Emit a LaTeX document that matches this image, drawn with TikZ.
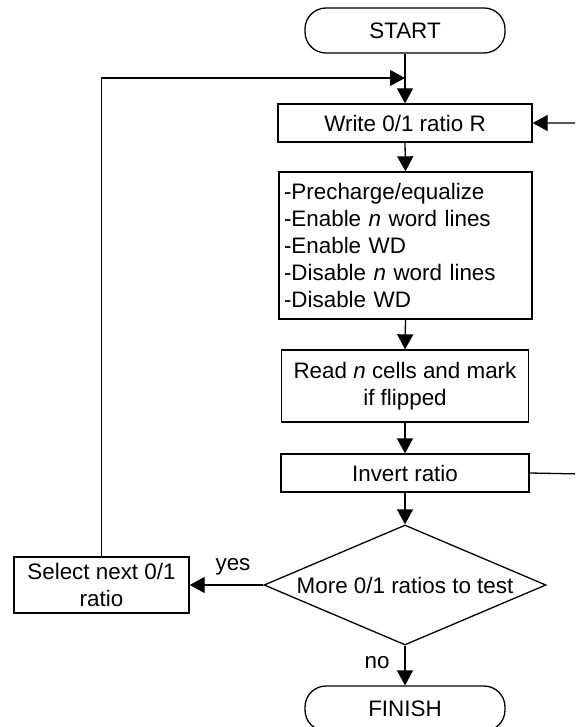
\documentclass[tikz,border=0pt]{standalone}
\usepackage{fontspec}
\setmainfont{Liberation Sans}
\usetikzlibrary{shapes.geometric,arrows.meta}
\begin{document}
\begin{tikzpicture}[x=1pt,y=-1pt,
  every node/.style={font=\fontsize{22.4}{27}\selectfont},
  box/.style={draw, line width=1.3pt, rectangle, inner sep=0pt, align=center},
  term/.style={draw, line width=1.3pt, rounded corners=21pt, minimum width=200pt, minimum height=45pt, inner sep=0pt},
  flow/.style={line width=1.3pt, -{Triangle[length=15pt,width=16pt]}}]
\useasboundingbox (0,0) rectangle (575,727);
\clip (0,0) rectangle (575,727);
\node[term] (start) at (405,30.5) {START};
\node[box, minimum width=254pt, minimum height=38pt] (write) at (405,123) {Write 0/1 ratio R};
\node[box, minimum width=253pt, minimum height=147pt, text width=243pt, align=left] (steps) at (405.5,245.5)
  {-Precharge/equalize\\-Enable \textit{n} word lines\\-Enable WD\\-Disable \textit{n} word lines\\-Disable WD};
\node[box, minimum width=247pt, minimum height=72pt] (read) at (405,386) {Read \textit{n} cells and mark\\if flipped};
\node[box, minimum width=248pt, minimum height=38pt] (inv) at (405,473) {Invert ratio};
\node[draw, diamond, line width=1.3pt, aspect=2.35, inner sep=0pt, minimum width=282pt, minimum height=120pt] (dec) at (405,585) {More 0/1 ratios to test};
\node[box, minimum width=175pt, minimum height=56pt] (sel) at (101.5,585) {Select next 0/1\\ratio};
\node[term] (fin) at (405,708.5) {FINISH};
\coordinate (merge) at (405,78);
\coordinate (rt) at (582,474);
\node (yes) at (233,567) {yes};
\node (no) at (377,663) {no};
\draw[flow] (start.south) -- (write.north);
\draw[flow] (sel.north) -- (sel.north |- merge) -- (merge);
\draw[flow] (write.south) -- (steps.north);
\draw[flow] (steps.south) -- (read.north);
\draw[flow] (read.south) -- (inv.north);
\draw[flow] (inv.south) -- (dec.north);
\draw[flow] (inv.east) -- (rt) -- (rt |- write.east) -- (write.east);
\draw[flow] (dec.west) -- (sel.east);
\draw[flow] (dec.south) -- (fin.north);
\end{tikzpicture}
\end{document}
